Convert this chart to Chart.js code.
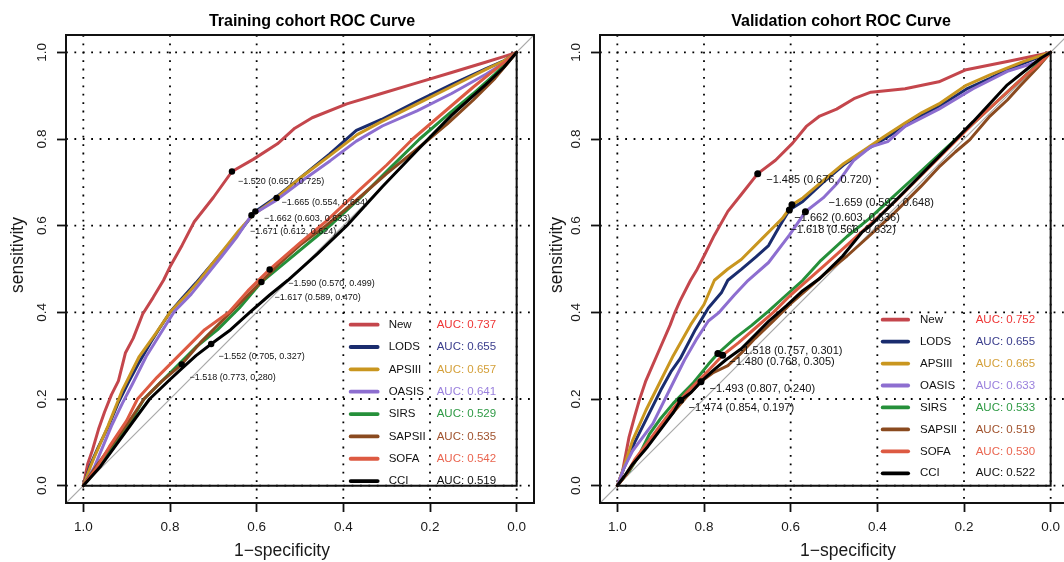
<!DOCTYPE html>
<html>
<head>
<meta charset="utf-8">
<script src="https://cdn.jsdelivr.net/npm/chart.js@4.4.1/dist/chart.umd.min.js"></script>
<style>
  html, body { margin: 0; padding: 0; background: #fff; width: 1064px; height: 562px; overflow: hidden; }
  canvas { position: absolute; top: 0; }
  #trainChart { left: 0; }
  #validChart { left: 534px; }
</style>
</head>
<body>
<canvas id="trainChart" width="556" height="562"></canvas>
<canvas id="validChart" width="556" height="562"></canvas>
<script>
const FONT = '"Liberation Sans", Arial, Helvetica, sans-serif';

const models = ['New', 'LODS', 'APSIII', 'OASIS', 'SIRS', 'SAPSII', 'SOFA', 'CCI'];
const lineColors = ['#C4464C', '#1A2C6E', '#C9961F', '#8D6ED0', '#25903A', '#8A4A1F', '#DD5A42', '#000000'];
const aucColors = ['#EE3535', '#3A3D8C', '#D4A03A', '#9A80DD', '#2E9A44', '#A0522D', '#EA6550', '#111111'];
const tickVals = [0, 0.2, 0.4, 0.6, 0.8, 1.0];

const trainAUC = [0.737, 0.655, 0.657, 0.641, 0.529, 0.535, 0.542, 0.519];
const validAUC = [0.752, 0.655, 0.665, 0.633, 0.533, 0.519, 0.530, 0.522];

// ROC points as [specificity, sensitivity] (x axis runs 1 -> 0)
const trainNew = [[1,0],[0.99,0.05],[0.979,0.082],[0.965,0.13],[0.951,0.17],[0.935,0.21],[0.919,0.242],[0.903,0.306],[0.885,0.34],[0.863,0.396],[0.839,0.434],[0.815,0.474],[0.8,0.505],[0.772,0.555],[0.744,0.609],[0.7,0.665],[0.657,0.725],[0.608,0.753],[0.552,0.789],[0.512,0.825],[0.472,0.849],[0.392,0.881],[0.312,0.905],[0.232,0.929],[0.152,0.953],[0.072,0.977],[0.03,0.99],[0,1]];
const trainLODS = [[1,0],[0.985,0.045],[0.965,0.09],[0.943,0.135],[0.92,0.19],[0.895,0.24],[0.871,0.285],[0.845,0.33],[0.823,0.365],[0.8,0.4],[0.77,0.435],[0.74,0.468],[0.7,0.515],[0.672,0.548],[0.64,0.585],[0.603,0.633],[0.552,0.668],[0.496,0.713],[0.432,0.765],[0.37,0.82],[0.312,0.845],[0.232,0.886],[0.152,0.925],[0.072,0.962],[0.03,0.98],[0,1]];
const trainAPSIII = [[1,0],[0.985,0.04],[0.975,0.065],[0.943,0.138],[0.911,0.218],[0.871,0.298],[0.831,0.354],[0.8,0.4],[0.76,0.442],[0.732,0.474],[0.7,0.515],[0.672,0.55],[0.64,0.59],[0.608,0.625],[0.554,0.664],[0.496,0.713],[0.432,0.761],[0.368,0.81],[0.312,0.84],[0.232,0.88],[0.152,0.92],[0.072,0.96],[0.03,0.98],[0,1]];
const trainOASIS = [[1,0],[0.975,0.042],[0.955,0.09],[0.935,0.138],[0.91,0.19],[0.887,0.234],[0.855,0.298],[0.815,0.362],[0.79,0.402],[0.751,0.442],[0.72,0.48],[0.68,0.53],[0.645,0.575],[0.612,0.624],[0.56,0.655],[0.5,0.7],[0.43,0.75],[0.37,0.795],[0.31,0.83],[0.23,0.865],[0.15,0.905],[0.07,0.95],[0.03,0.975],[0,1]];
const trainSIRS = [[1,0],[0.97,0.04],[0.93,0.09],[0.89,0.15],[0.86,0.2],[0.8,0.26],[0.74,0.32],[0.69,0.36],[0.64,0.41],[0.61,0.445],[0.589,0.47],[0.54,0.51],[0.48,0.56],[0.425,0.605],[0.36,0.665],[0.29,0.735],[0.224,0.8],[0.16,0.855],[0.1,0.905],[0.05,0.95],[0,1]];
const trainSAPSII = [[1,0],[0.97,0.045],[0.93,0.1],[0.89,0.155],[0.86,0.2],[0.82,0.24],[0.773,0.28],[0.73,0.33],[0.69,0.37],[0.65,0.41],[0.6,0.46],[0.55,0.51],[0.5,0.555],[0.44,0.6],[0.38,0.65],[0.3,0.72],[0.22,0.785],[0.16,0.835],[0.1,0.89],[0.05,0.94],[0,1]];
const trainSOFA = [[1,0],[0.97,0.04],[0.94,0.09],[0.9,0.15],[0.875,0.2],[0.83,0.25],[0.78,0.3],[0.72,0.36],[0.664,0.4],[0.62,0.45],[0.57,0.499],[0.5,0.56],[0.44,0.61],[0.36,0.685],[0.3,0.74],[0.24,0.8],[0.17,0.86],[0.1,0.92],[0.05,0.96],[0,1]];
const trainCCI = [[1,0],[0.96,0.045],[0.92,0.1],[0.88,0.155],[0.847,0.2],[0.8,0.245],[0.773,0.27],[0.74,0.3],[0.705,0.327],[0.66,0.36],[0.616,0.4],[0.57,0.44],[0.528,0.474],[0.46,0.535],[0.392,0.6],[0.31,0.69],[0.224,0.78],[0.15,0.855],[0.072,0.925],[0.03,0.965],[0,1]];

const validNew = [[1,0],[0.988,0.033],[0.973,0.112],[0.96,0.16],[0.949,0.198],[0.935,0.24],[0.926,0.261],[0.902,0.316],[0.878,0.371],[0.867,0.4],[0.855,0.427],[0.831,0.474],[0.816,0.499],[0.8,0.53],[0.776,0.578],[0.745,0.633],[0.714,0.672],[0.676,0.72],[0.635,0.751],[0.596,0.79],[0.564,0.829],[0.533,0.853],[0.494,0.869],[0.454,0.893],[0.415,0.908],[0.375,0.912],[0.336,0.916],[0.258,0.932],[0.195,0.96],[0.1,0.979],[0.022,0.995],[0,1]];
const validLODS = [[1,0],[0.985,0.04],[0.96,0.1],[0.93,0.16],[0.9,0.22],[0.875,0.265],[0.855,0.293],[0.82,0.36],[0.79,0.41],[0.76,0.445],[0.745,0.474],[0.714,0.499],[0.68,0.528],[0.651,0.554],[0.625,0.6],[0.603,0.636],[0.572,0.656],[0.525,0.7],[0.478,0.74],[0.431,0.772],[0.384,0.8],[0.336,0.83],[0.297,0.855],[0.258,0.875],[0.195,0.915],[0.14,0.94],[0.1,0.96],[0.05,0.98],[0,1]];
const validAPSIII = [[1,0],[0.988,0.033],[0.965,0.104],[0.934,0.174],[0.902,0.238],[0.871,0.3],[0.831,0.371],[0.8,0.418],[0.776,0.474],[0.745,0.5],[0.714,0.522],[0.666,0.57],[0.619,0.617],[0.597,0.648],[0.572,0.664],[0.525,0.704],[0.478,0.743],[0.431,0.774],[0.384,0.806],[0.336,0.837],[0.297,0.861],[0.258,0.881],[0.195,0.924],[0.14,0.948],[0.062,0.979],[0,1]];
const validOASIS = [[1,0],[0.985,0.04],[0.965,0.08],[0.918,0.143],[0.871,0.238],[0.845,0.29],[0.816,0.34],[0.79,0.38],[0.765,0.4],[0.73,0.44],[0.698,0.474],[0.651,0.515],[0.603,0.578],[0.566,0.632],[0.525,0.664],[0.494,0.696],[0.454,0.751],[0.415,0.782],[0.376,0.794],[0.336,0.829],[0.258,0.869],[0.179,0.916],[0.1,0.956],[0.037,0.976],[0,1]];
const validSIRS = [[1,0],[0.973,0.033],[0.95,0.07],[0.926,0.119],[0.9,0.155],[0.871,0.19],[0.824,0.238],[0.79,0.28],[0.768,0.305],[0.729,0.34],[0.69,0.37],[0.651,0.403],[0.61,0.44],[0.572,0.474],[0.53,0.52],[0.47,0.575],[0.42,0.615],[0.36,0.67],[0.3,0.725],[0.24,0.78],[0.18,0.835],[0.12,0.89],[0.06,0.945],[0,1]];
const validSAPSII = [[1,0],[0.98,0.025],[0.96,0.055],[0.93,0.095],[0.9,0.135],[0.87,0.17],[0.84,0.205],[0.807,0.24],[0.78,0.26],[0.745,0.277],[0.71,0.31],[0.682,0.34],[0.64,0.38],[0.6,0.42],[0.56,0.455],[0.52,0.49],[0.47,0.53],[0.42,0.575],[0.36,0.63],[0.3,0.69],[0.258,0.735],[0.22,0.77],[0.187,0.798],[0.14,0.853],[0.1,0.89],[0.069,0.924],[0.03,0.965],[0,1]];
const validSOFA = [[1,0],[0.98,0.025],[0.96,0.06],[0.93,0.1],[0.9,0.14],[0.87,0.18],[0.84,0.215],[0.8,0.255],[0.757,0.301],[0.72,0.33],[0.68,0.365],[0.64,0.4],[0.6,0.44],[0.56,0.475],[0.52,0.51],[0.47,0.555],[0.42,0.6],[0.36,0.655],[0.3,0.715],[0.24,0.775],[0.18,0.835],[0.12,0.89],[0.06,0.945],[0.03,0.97],[0,1]];
const validCCI = [[1,0],[0.985,0.02],[0.965,0.049],[0.93,0.09],[0.9,0.13],[0.87,0.17],[0.854,0.197],[0.83,0.215],[0.807,0.24],[0.78,0.265],[0.75,0.29],[0.714,0.316],[0.68,0.35],[0.651,0.379],[0.61,0.415],[0.572,0.45],[0.533,0.478],[0.48,0.53],[0.435,0.585],[0.415,0.601],[0.336,0.68],[0.258,0.759],[0.179,0.84],[0.1,0.925],[0.05,0.965],[0.022,0.987],[0,1]];

// best thresholds printed on the curves (same order as models)
const trainThr = [-1.520, -1.662, -1.665, -1.671, -1.617, -1.518, -1.590, -1.552];
const trainThrSpec = [0.657, 0.603, 0.554, 0.612, 0.589, 0.773, 0.570, 0.705];
const trainThrSens = [0.725, 0.633, 0.664, 0.624, 0.470, 0.280, 0.499, 0.327];
const validThr = [-1.485, -1.662, -1.659, -1.618, -1.480, -1.493, -1.518, -1.474];
const validThrSpec = [0.676, 0.603, 0.597, 0.566, 0.768, 0.807, 0.757, 0.854];
const validThrSens = [0.720, 0.636, 0.648, 0.632, 0.305, 0.240, 0.301, 0.197];

const diagLine = [[1.04, -0.04], [-0.04, 1.04]];
const cornerLine = [[1, 0], [0, 0], [0, 1]];

function toXY(points) {
  return points.map((p) => ({ x: p[0], y: p[1] }));
}

function fmtThr(v) {
  return v.toFixed(3).replace('-', '\u2212');
}

// draws the R style parts: dotted grid, box, rotated y labels, titles, legend, threshold text
function rPanel(p) {
  return {
    id: 'rPanel',
    beforeDatasetsDraw(chart) {
      const { ctx, chartArea: a, scales: { x, y } } = chart;
      ctx.save();
      ctx.strokeStyle = '#000';
      ctx.lineWidth = 1.8;
      ctx.setLineDash([1.8, 6.6]);
      tickVals.forEach((v) => {
        const px = x.getPixelForValue(v);
        const py = y.getPixelForValue(v);
        ctx.beginPath(); ctx.moveTo(px, a.top); ctx.lineTo(px, a.bottom); ctx.stroke();
        ctx.beginPath(); ctx.moveTo(a.left, py); ctx.lineTo(a.right, py); ctx.stroke();
      });
      ctx.restore();
    },
    afterDatasetsDraw(chart) {
      const { ctx, scales: { x, y } } = chart;
      const x0 = x.getPixelForValue(0);
      const y0 = y.getPixelForValue(0);
      ctx.save();

      // threshold labels
      ctx.font = p.thrFont + 'px ' + FONT;
      ctx.fillStyle = '#111';
      ctx.textAlign = 'left';
      ctx.textBaseline = 'middle';
      p.thr.forEach((t, i) => {
        const px = x.getPixelForValue(p.thrSpec[i]) + p.nudge[i][0];
        const py = y.getPixelForValue(p.thrSens[i]) + p.nudge[i][1];
        ctx.fillText(fmtThr(t) + ' (' + p.thrSpec[i].toFixed(3) + ', ' + p.thrSens[i].toFixed(3) + ')', px, py);
      });

      // legend
      const L = p.legend;
      ctx.font = '11.5px ' + FONT;
      ctx.lineCap = 'round';
      models.forEach((m, i) => {
        const ry = y0 + L.top + i * L.step;
        ctx.strokeStyle = lineColors[i];
        ctx.lineWidth = 3.8;
        ctx.beginPath(); ctx.moveTo(x0 + L.line[0], ry); ctx.lineTo(x0 + L.line[1], ry); ctx.stroke();
        ctx.fillStyle = '#111';
        ctx.fillText(m, x0 + L.text, ry);
        ctx.fillStyle = aucColors[i];
        ctx.fillText('AUC: ' + p.auc[i].toFixed(3), x0 + L.auc, ry);
      });
      ctx.restore();
    },
    afterDraw(chart) {
      const { ctx, chartArea: a, scales: { y } } = chart;
      ctx.save();
      ctx.strokeStyle = '#111';
      ctx.lineWidth = 2;
      ctx.strokeRect(a.left, a.top, a.right - a.left, a.bottom - a.top);

      ctx.fillStyle = '#1a1a1a';
      ctx.textAlign = 'center';
      ctx.textBaseline = 'middle';
      ctx.font = '13.5px ' + FONT;
      tickVals.forEach((v) => {
        ctx.save();
        ctx.translate(a.left - 24, y.getPixelForValue(v));
        ctx.rotate(-Math.PI / 2);
        ctx.fillText(v.toFixed(1), 0, 0);
        ctx.restore();
      });

      ctx.font = '17.5px ' + FONT;
      ctx.save();
      ctx.translate(p.yTitleX, p.yTitleY);
      ctx.rotate(-Math.PI / 2);
      ctx.fillText('sensitivity', 0, 0);
      ctx.restore();

      ctx.textBaseline = 'alphabetic';
      ctx.fillText('1\u2212specificity', p.xTitleX, 556);

      ctx.font = 'bold 16px ' + FONT;
      ctx.fillStyle = '#000';
      ctx.fillText(p.title, p.titleX, 26);
      ctx.restore();
    }
  };
}

function axis(showLabels) {
  return {
    type: 'linear',
    min: -0.04,
    max: 1.04,
    afterBuildTicks: (s) => { s.ticks = tickVals.map((v) => ({ value: v })); },
    grid: { drawOnChartArea: false, drawTicks: true, tickLength: 9, tickWidth: 1.8, tickColor: '#111' },
    border: { display: false },
    ticks: {
      display: showLabels,
      padding: 7,
      color: '#1a1a1a',
      font: { family: FONT, size: 13.5 },
      maxRotation: 0,
      autoSkip: false,
      callback: (v) => Number(v).toFixed(1)
    }
  };
}

function buildChart(id, p) {
  const datasets = p.curves.map((c, i) => ({
    label: models[i],
    data: toXY(c),
    showLine: true,
    borderColor: lineColors[i],
    borderWidth: 3,
    borderCapStyle: 'round',
    borderJoinStyle: 'round',
    pointRadius: 0,
    order: 20 - i
  }));
  datasets.push({ label: 'diag', data: toXY(diagLine), showLine: true, borderColor: '#a8a8a8', borderWidth: 1.2, pointRadius: 0, order: 50 });
  datasets.push({ label: 'corner', data: toXY(cornerLine), showLine: true, borderColor: '#111', borderWidth: 2, pointRadius: 0, order: 2 });
  datasets.push({
    label: 'thresholds',
    data: p.thrSpec.map((s, i) => ({ x: s, y: p.thrSens[i] })),
    showLine: false,
    pointRadius: p.dot,
    pointBackgroundColor: '#000',
    pointBorderWidth: 0,
    order: 1
  });

  const xAxis = axis(true);
  xAxis.reverse = true;
  xAxis.afterFit = (s) => { s.height = 59; };
  const yAxis = axis(false);
  yAxis.afterFit = (s) => { s.width = 66; };

  return new Chart(document.getElementById(id), {
    type: 'scatter',
    data: { datasets },
    options: {
      responsive: false,
      animation: false,
      layout: { padding: { left: 0, top: 35, right: 22, bottom: 0 } },
      plugins: { legend: { display: false }, tooltip: { enabled: false } },
      scales: { x: xAxis, y: yAxis }
    },
    plugins: [rPanel(p)]
  });
}

buildChart('trainChart', {
  title: 'Training cohort ROC Curve',
  titleX: 312,
  xTitleX: 282,
  yTitleX: 18,
  yTitleY: 255,
  curves: [trainNew, trainLODS, trainAPSIII, trainOASIS, trainSIRS, trainSAPSII, trainSOFA, trainCCI],
  auc: trainAUC,
  thr: trainThr,
  thrSpec: trainThrSpec,
  thrSens: trainThrSens,
  thrFont: 9,
  dot: 3.2,
  nudge: [[6, 10.4], [8.6, 7.2], [5, 4.3], [-1.5, 16.7], [13, 16], [7.7, 13.4], [18.7, 14.2], [7.3, 12.3]],
  legend: { top: -161, step: 22.35, line: [-166, -139], text: -128, auc: -80 }
});

buildChart('validChart', {
  title: 'Validation cohort ROC Curve',
  titleX: 307,
  xTitleX: 314,
  yTitleX: 23,
  yTitleY: 255,
  curves: [validNew, validLODS, validAPSIII, validOASIS, validSIRS, validSAPSII, validSOFA, validCCI],
  auc: validAUC,
  thr: validThr,
  thrSpec: validThrSpec,
  thrSens: validThrSens,
  thrFont: 11,
  dot: 3.5,
  nudge: [[8.5, 6.5], [5, 7.5], [36.5, -2.3], [-15, 18.5], [11.4, 8], [8.6, 7.8], [14.3, -3.8], [8, 7.5]],
  legend: { top: -166, step: 21.95, line: [-168, -142.5], text: -130.7, auc: -75 }
});
</script>
</body>
</html>
